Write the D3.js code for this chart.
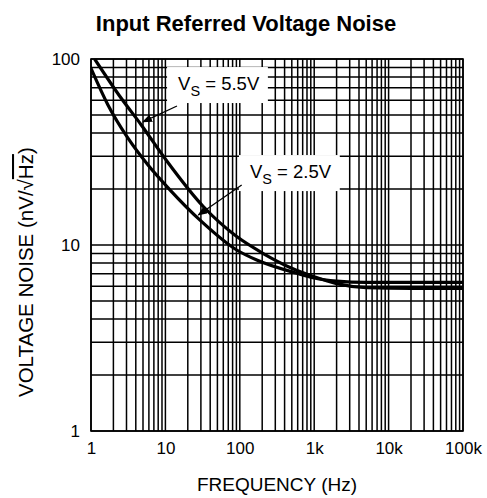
<!DOCTYPE html>
<html>
<head>
<meta charset="utf-8">
<script src="https://cdn.jsdelivr.net/npm/d3@7"></script>
<style>
  html, body { margin: 0; padding: 0; background: #fff; }
  svg { display: block; }
  text { font-family: "Liberation Sans", Arial, Helvetica, sans-serif; fill: #000; }
</style>
</head>
<body>
<svg id="chart" width="487" height="498"></svg>
<script>
// ---- data ----
const chartTitle = "Input Referred Voltage Noise";
const xTitle = "FREQUENCY (Hz)";
const yTitleMain = "VOLTAGE NOISE (nV/\u221A";
const yTitleRad = "Hz";
const yTitleEnd = ")";

const xTickValues = [1, 10, 100, 1000, 10000, 100000];
const xTickLabels = ["1", "10", "100", "1k", "10k", "100k"];
const yTickValues = [1, 10, 100];
const yTickLabels = ["1", "10", "100"];

// V_S = 5.5V series
const freq55 = [1.12, 2.55, 4.74, 10.5, 32.3, 90.9, 207, 500, 1000, 2000, 5000, 20000, 100000];
const noise55 = [100, 61.5, 44.2, 28.2, 16.1, 11.1, 9.0, 7.5, 6.75, 6.2, 5.9, 5.85, 5.85];
// V_S = 2.5V series
const freq25 = [1, 1.69, 3.14, 5.84, 11.5, 29.2, 90.9, 169, 582, 1000, 2000, 5000, 100000];
const noise25 = [89, 56.6, 37.5, 26.9, 19.8, 13.6, 9.4, 8.3, 7.05, 6.65, 6.4, 6.3, 6.3];

// annotations (data coordinates)
const annoValue = ["5.5V", "2.5V"];
const annoTextF = [14.8, 137];
const annoTextV = [68.1, 22.9];
const arrowFromF = [14.3, 106];
const arrowFromV = [55.9, 21.0];
const arrowToF = [5.0, 27.7];
const arrowToV = [45.9, 14.5];

// ---- layout ----
const svg = d3.select("#chart");
const margin = { left: 91, top: 59, right: 24, bottom: 67 };
const W = 487, H = 498;
const pw = W - margin.left - margin.right;
const ph = H - margin.top - margin.bottom;

const x = d3.scaleLog().domain([1, 100000]).range([margin.left, margin.left + pw]);
const y = d3.scaleLog().domain([1, 100]).range([margin.top + ph, margin.top]);

// grid values
const xGrid = [];
for (let d = 1; d < 100000; d *= 10) for (let k = 1; k <= 9; k++) xGrid.push(d * k);
xGrid.push(100000);
const yGrid = [];
for (let d = 1; d < 100; d *= 10) for (let k = 1; k <= 9; k++) yGrid.push(d * k);
yGrid.push(100);

const defs = svg.append("defs");
defs.append("clipPath").attr("id", "plotclip")
  .append("rect").attr("x", margin.left).attr("y", margin.top).attr("width", pw).attr("height", ph);
defs.append("marker").attr("id", "arrowhead")
  .attr("markerUnits", "userSpaceOnUse")
  .attr("markerWidth", 10).attr("markerHeight", 8)
  .attr("refX", 9).attr("refY", 4).attr("orient", "auto")
  .append("path").attr("d", "M0,0 L10,4 L0,8 Z").attr("fill", "#000");

const gridG = svg.append("g");
gridG.selectAll("line.vx").data(xGrid).join("line")
  .attr("x1", d => x(d)).attr("x2", d => x(d))
  .attr("y1", margin.top).attr("y2", margin.top + ph)
  .attr("stroke", "#000").attr("stroke-width", 1.5);
gridG.selectAll("line.hy").data(yGrid).join("line")
  .attr("x1", margin.left).attr("x2", margin.left + pw)
  .attr("y1", d => y(d)).attr("y2", d => y(d))
  .attr("stroke", "#000").attr("stroke-width", 1.5);

// border
svg.append("rect").attr("x", margin.left).attr("y", margin.top)
  .attr("width", pw).attr("height", ph)
  .attr("fill", "none").attr("stroke", "#000").attr("stroke-width", 1.6);

// curves
const line = d3.line().x(d => x(d[0])).y(d => y(d[1])).curve(d3.curveMonotoneX);
const series = [d3.zip(freq55, noise55), d3.zip(freq25, noise25)];
svg.append("g").attr("clip-path", "url(#plotclip)")
  .selectAll("path").data(series).join("path")
  .attr("d", line).attr("fill", "none").attr("stroke", "#000")
  .attr("stroke-width", 3.2).attr("stroke-linejoin", "round");

// annotation labels
annoValue.forEach((val, i) => {
  const g = svg.append("g");
  const rect = g.append("rect").attr("fill", "#fff");
  const t = g.append("text").attr("x", x(annoTextF[i])).attr("y", y(annoTextV[i]))
    .attr("font-size", 18.5);
  t.append("tspan").text("V");
  t.append("tspan").attr("font-size", 14.5).attr("dy", 6).text("S");
  t.append("tspan").attr("font-size", 18.5).attr("dy", -6).text(" = " + val);
  const bb = t.node().getBBox();
  rect.attr("x", bb.x - 11).attr("y", bb.y - 6)
    .attr("width", bb.width + 19).attr("height", bb.height + 10);
  svg.append("line")
    .attr("x1", x(arrowFromF[i])).attr("y1", y(arrowFromV[i]))
    .attr("x2", x(arrowToF[i])).attr("y2", y(arrowToV[i]))
    .attr("stroke", "#000").attr("stroke-width", 1.3)
    .attr("marker-end", "url(#arrowhead)");
});

// axes
const xAxis = d3.axisBottom(x).tickValues(xTickValues)
  .tickFormat((d, i) => xTickLabels[i]).tickSize(0).tickPadding(11);
const gx = svg.append("g").attr("transform", `translate(0,${margin.top + ph})`).call(xAxis);
gx.select(".domain").remove();
gx.selectAll("text").attr("font-size", 17).attr("font-family", null);

const yAxis = d3.axisLeft(y).tickValues(yTickValues)
  .tickFormat((d, i) => yTickLabels[i]).tickSize(0).tickPadding(11);
const gy = svg.append("g").attr("transform", `translate(${margin.left},0)`).call(yAxis);
gy.select(".domain").remove();
gy.selectAll("text").attr("font-size", 17).attr("font-family", null);

// titles
svg.append("text").attr("x", 246).attr("y", 31).attr("text-anchor", "middle")
  .attr("font-size", 22).attr("font-weight", "bold").text(chartTitle);
svg.append("text").attr("x", margin.left + pw / 2).attr("y", 491).attr("text-anchor", "middle")
  .attr("font-size", 19).text(xTitle);
const yt = svg.append("text").attr("transform", "translate(33,397) rotate(-90)")
  .attr("text-anchor", "start").attr("font-size", 20.5);
yt.append("tspan").text(yTitleMain);
yt.append("tspan").attr("style", "text-decoration: overline").text(yTitleRad);
yt.append("tspan").text(yTitleEnd);
</script>
</body>
</html>
